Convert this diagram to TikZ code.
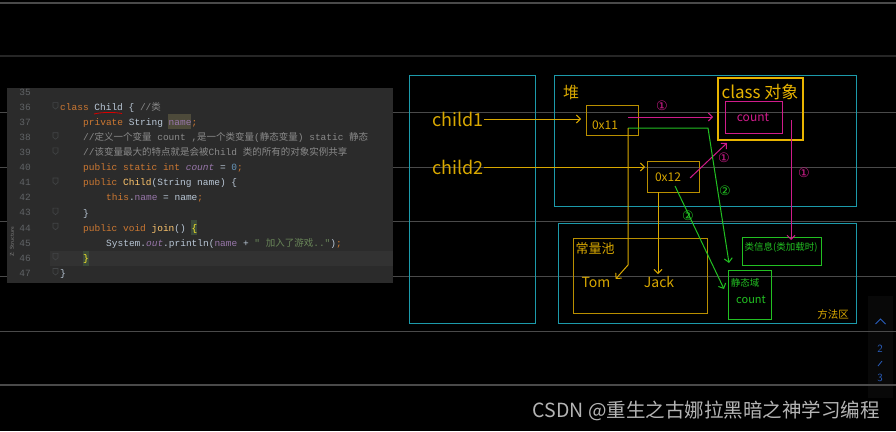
\documentclass[tikz,border=0pt]{standalone}
\usepackage{fontspec}
\usetikzlibrary{calc,arrows.meta}
\newfontfamily\codefont{Liberation Mono}
\newfontfamily\cjkf{Noto Sans CJK SC}
\newfontfamily\handf{Noto Sans CJK SC}
\newfontfamily\symf{DejaVu Sans}
\definecolor{kw}{HTML}{CC7832}
\definecolor{fn}{HTML}{FFC66D}
\definecolor{fld}{HTML}{9876AA}
\definecolor{cmt}{HTML}{8A8A8A}
\definecolor{num}{HTML}{6897BB}
\definecolor{txt}{HTML}{B9C7D6}
\definecolor{strc}{HTML}{6A8759}
\definecolor{lnum}{HTML}{606366}
\definecolor{panelbg}{HTML}{2B2B2B}
\definecolor{rowhl}{HTML}{323232}
\definecolor{namehl}{HTML}{4D4A3A}
\definecolor{bracehl}{HTML}{3B4A3A}
\definecolor{bracec}{HTML}{FFEF28}
\definecolor{gline}{HTML}{4A4A4A}
\definecolor{cy}{HTML}{1C9AAA}
\definecolor{yl}{HTML}{D9A800}
\definecolor{ylbox}{HTML}{B98F00}
\definecolor{ylbright}{HTML}{E8B400}
\definecolor{mg}{HTML}{D01C8B}
\definecolor{gr}{HTML}{22C022}
\definecolor{uiblue}{HTML}{2A5FC0}
\definecolor{wm}{HTML}{B4B4B4}
\definecolor{stripbg}{HTML}{080808}
\tikzset{
  x=1pt, y=-1pt,
  code/.style={anchor=base west, inner sep=0pt, text=txt, font=\codefont\fontsize{9.5}{10}\selectfont},
  lnumst/.style={anchor=base east, inner sep=0pt, text=lnum, font=\codefont\fontsize{9.5}{10}\selectfont},
  box/.style={draw, inner sep=0pt, outer sep=0pt, line width=1pt},
  hand/.style={inner sep=0pt, font=\handf\fontsize{#1}{#1}\selectfont},
  circnum/.style={inner sep=0pt, font=\symf\fontsize{13}{13}\selectfont},
  arr/.style={line width=1pt, -{Straight Barb[length=4pt,width=8pt]}},
}
\begin{document}
\begin{tikzpicture}
\useasboundingbox (0,0) rectangle (896,431);
\fill[black] (0,0) rectangle (896,431);
% background gray rules
\fill[stripbg] (868,296) rectangle (893,398);
\draw[gline, line width=1.2pt] (0,3) -- (896,3);
\draw[gline!120, line width=2pt] (0,56) -- (896,56);
\foreach \yy in {112,167,221.5,276.5,331}{\draw[gline, line width=0.9pt] (0,\yy) -- (896,\yy);}
\draw[gline, line width=1.2pt] (0,385) -- (896,385);

% ---------------- code panel ----------------
\fill[panelbg] (7,88) rectangle (393,283);
\fill[rowhl] (50,250.5) rectangle (393,265.5);
\begin{scope}
\clip (7,88) rectangle (393,283);
\node[rotate=90, inner sep=0pt, text=gray, font=\sffamily\fontsize{5.5}{6}\selectfont] (structure) at (12,242) {Z: Structure};
\foreach \n in {35,...,47}{
  \node[lnumst] (ln\n) at (31,{95.3+15.08*(\n-35)}) {\n};
}
% fold markers
\foreach \n in {36,38,39,41,43,44,46,47}{
  \draw[lnum!70!black, line width=0.6pt] (53,{87.5+15.08*(\n-35)}) -- (58,{87.5+15.08*(\n-35)}) -- (58,{92+15.08*(\n-35)}) -- (55.5,{94+15.08*(\n-35)}) -- (53,{92+15.08*(\n-35)}) -- cycle;
}
\fill[namehl] (168,114) rectangle (191,128.5);
\fill[bracehl] (191,220) rectangle (197,235);
\fill[bracehl] (83,250.5) rectangle (89,265.5);
\node[code] (c36) at (60,110.4) {\textcolor{kw}{class} Child \{ \textcolor{cmt}{//{\cjkf 类}}};
\draw[red!85!black, line width=0.8pt] (94,114) .. controls (102,112) and (114,112) .. (122,113.5);
\node[code] (c37) at (83,125.5) {\textcolor{kw}{private} String \textcolor{fld}{name}\textcolor{kw}{;}};
\node[code] (c38) at (83,140.5) {\textcolor{cmt}{//{\cjkf 定义一个变量} count ,{\cjkf 是一个类变量}({\cjkf 静态变量}) static {\cjkf 静态}}};
\node[code] (c39) at (83,155.6) {\textcolor{cmt}{//{\cjkf 该变量最大的特点就是会被}Child {\cjkf 类的所有的对象实例共享}}};
\node[code] (c40) at (83,170.7) {\textcolor{kw}{public static int} \textcolor{fld}{\itshape count} = \textcolor{num}{0}\textcolor{kw}{;}};
\node[code] (c41) at (83,185.8) {\textcolor{kw}{public} \textcolor{fn}{Child}(String name) \{};
\node[code] (c42) at (106,200.9) {\textcolor{kw}{this}.\textcolor{fld}{name} = name\textcolor{kw}{;}};
\node[code] (c43) at (83,216.0) {\}};
\node[code] (c44) at (83,231.0) {\textcolor{kw}{public void} \textcolor{fn}{join}() \textcolor{bracec}{\{}};
\node[code] (c45) at (106,246.1) {System.\textcolor{fld}{\itshape out}.println(\textcolor{fld}{name} + \textcolor{strc}{" {\cjkf 加入了游戏}.."})\textcolor{kw}{;}};
\node[code] (c46) at (83,261.2) {\textcolor{bracec}{\}}};
\node[code] (c47) at (60,276.3) {\}};
\end{scope}

% ---------------- memory diagram ----------------
\node[box, draw=cy, minimum width=126, minimum height=248] (stack) at (472,199) {};
\node[box, draw=cy, minimum width=302, minimum height=131] (heap) at (705,140.5) {};
\node[box, draw=cy, minimum width=298, minimum height=100] (method) at (707,273) {};
\node[box, draw=ylbox, minimum width=52, minimum height=30] (ox11) at (612,120) {};
\node[box, draw=ylbox, minimum width=52, minimum height=31] (ox12) at (673,176.5) {};
\node[box, draw=ylbright, line width=1.8pt, minimum width=85, minimum height=62] (classobj) at (760.5,109) {};
\node[box, draw=mg, minimum width=57, minimum height=32] (countbox) at (753.5,117) {};
\node[box, draw=ylbox, minimum width=134, minimum height=75] (pool) at (640,275.5) {};
\node[box, draw=gr, minimum width=79, minimum height=28] (classinfo) at (781.5,251) {};
\node[box, draw=gr, minimum width=43, minimum height=49] (static) at (749.5,294.5) {};

% labels
\node[hand=18, text=yl, anchor=east] (child1) at (484,119) {child1};
\node[hand=18, text=yl, anchor=east] (child2) at (484,167) {child2};
\node[hand=16, text=yl] (heaplbl) at (571,92) {堆};
\node[hand=12, text=yl] (t11) at (605,125) {0x11};
\node[hand=12, text=yl] (t12) at (668,177) {0x12};
\node[hand=17, text=ylbright] (classlbl) at (760,92) {class 对象};
\node[hand=12, text=mg] (countm) at (753,117) {count};
\node[hand=13, text=yl] (poollbl) at (595,249) {常量池};
\node[hand=14, text=yl] (tom) at (596,282) {Tom};
\node[hand=14, text=yl] (jack) at (659,282) {Jack};
\node[hand=9.5, text=gr] (infolbl) at (781,247) {类信息(类加载时)};
\node[hand=9.5, text=gr] (staticlbl) at (745,283) {静态域};
\node[hand=11, text=gr] (countg) at (751,300) {count};
\node[hand=10.5, text=yl] (methodlbl) at (833,314) {方法区};
\node[circnum, text=mg] (m1) at (662,106) {①};
\node[circnum, text=mg] (m2) at (724,158) {①};
\node[circnum, text=mg] (m3) at (804,173) {①};
\node[circnum, text=gr] (g1) at (725,191) {②};
\node[circnum, text=gr] (g2) at (688,216) {②};

% connector anchor points
\coordinate (p11m) at ($(ox11.center)+(16,-3)$);
\coordinate (p11g) at ($(ox11.center)+(16,8)$);
\coordinate (p12m) at ($(ox12.center)+(17,1.5)$);
\coordinate (p12g) at ($(ox12.center)+(2,9.5)$);
\coordinate (p12y) at ($(ox12.south)+(-15,0)$);
\coordinate (pcm) at ($(classobj.center)+(30.5,11)$);

% connectors
\draw[arr, yl] (child1.east) -- ($(ox11.west |- child1.east)+(-5,0)$);
\draw[arr, yl] (child2.east) -- ($(ox12.west |- child2.east)+(-2,0)$);
\draw[arr, mg] (p11m) -- ($(classobj.west)+(-5,8)$);
\draw[arr, mg] (p12m) -- ($(classobj.south west)+(9,3)$);
\draw[arr, mg] (pcm) -- ($(pcm |- classinfo.north)+(0,3)$);
\draw[arr, gr] (p11g) -- ($(classobj.west)+(-10,19)$) -- ($(static.north west)+(1,-7)$);
\draw[arr, gr] (p12g) -- ($(static.west)+(-4,-5.5)$);
\draw[arr, yl] (p11g) -- ($(pool.north west)+(55,27)$) -- ($(tom.east)+(5,-3)$);
\draw[arr, yl] (p12y) -- ($(p12y |- jack.north)+(0,-2)$);

% right-side UI
\draw[uiblue, line width=0.9pt] (875.5,324) -- (880.5,319) -- (885.5,324);
\node[inner sep=0pt, text=uiblue, font=\sffamily\fontsize{11}{11}\selectfont] (pg2) at (880,349) {2};
\draw[uiblue, line width=0.8pt] (878,366) -- (882,361);
\node[inner sep=0pt, text=uiblue, font=\sffamily\fontsize{11}{11}\selectfont] (pg3) at (880,378) {3};

% watermark
\node[anchor=east, inner sep=0pt, text=wm, font=\cjkf\fontsize{19.5}{20}\selectfont] (watermark) at (880,411) {CSDN @重生之古娜拉黑暗之神学习编程};
\end{tikzpicture}
\end{document}
